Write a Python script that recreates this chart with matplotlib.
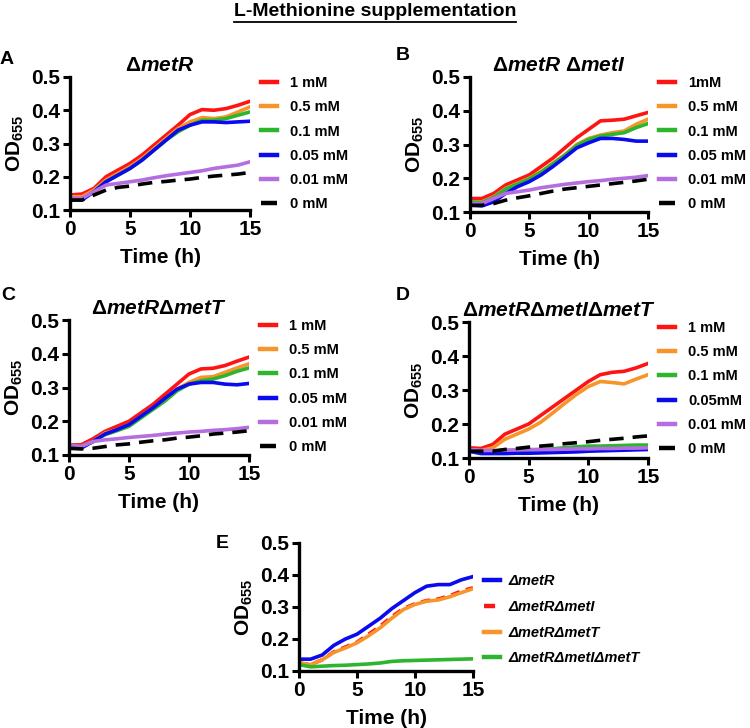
import matplotlib.pyplot as plt
from matplotlib.lines import Line2D
import numpy as np

plt.rcParams['font.family'] = ['Liberation Sans', 'DejaVu Sans']
plt.rcParams['font.weight'] = 'bold'
plt.rcParams['mathtext.fontset'] = 'custom'
plt.rcParams['mathtext.rm'] = 'Liberation Sans:bold'
plt.rcParams['mathtext.it'] = 'Liberation Sans:bold:italic'
plt.rcParams['mathtext.bf'] = 'Liberation Sans:bold'
plt.rcParams['mathtext.default'] = 'rm'

## data (OD655 at each hour)
time_h = [0, 1, 2, 3, 4, 5, 6, 7, 8, 9, 10, 11, 12, 13, 14, 15]

conc_labels_a = ["1 mM", "0.5 mM", "0.1 mM", "0.05 mM", "0.01 mM", "0 mM"]
conc_labels_b = ["1mM", "0.5 mM", "0.1 mM", "0.05 mM", "0.01 mM", "0 mM"]
conc_labels_d = ["1 mM", "0.5 mM", "0.1 mM", "0.05mM", "0.01 mM", "0 mM"]

a_1mM = [0.145, 0.148, 0.165, 0.200, 0.220, 0.240, 0.265, 0.295, 0.325, 0.355, 0.387, 0.402, 0.400, 0.405, 0.415, 0.427]
a_05mM = [0.140, 0.140, 0.160, 0.190, 0.210, 0.230, 0.255, 0.285, 0.315, 0.345, 0.365, 0.378, 0.375, 0.380, 0.395, 0.410]
a_01mM = [0.135, 0.133, 0.155, 0.185, 0.205, 0.225, 0.250, 0.280, 0.310, 0.335, 0.355, 0.370, 0.370, 0.375, 0.385, 0.395]
a_005mM = [0.130, 0.130, 0.155, 0.185, 0.205, 0.225, 0.250, 0.280, 0.310, 0.340, 0.355, 0.365, 0.365, 0.363, 0.365, 0.367]
a_001mM = [0.135, 0.135, 0.155, 0.175, 0.180, 0.185, 0.190, 0.197, 0.203, 0.208, 0.213, 0.218, 0.225, 0.230, 0.235, 0.245]
a_0mM = [0.130, 0.130, 0.145, 0.160, 0.168, 0.172, 0.178, 0.183, 0.186, 0.190, 0.193, 0.198, 0.202, 0.205, 0.208, 0.213]

b_1mM = [0.140, 0.140, 0.155, 0.180, 0.195, 0.210, 0.235, 0.260, 0.290, 0.320, 0.345, 0.370, 0.372, 0.375, 0.385, 0.395]
b_05mM = [0.130, 0.130, 0.145, 0.170, 0.185, 0.200, 0.220, 0.245, 0.270, 0.300, 0.318, 0.328, 0.335, 0.340, 0.360, 0.375]
b_01mM = [0.130, 0.128, 0.143, 0.168, 0.183, 0.198, 0.218, 0.243, 0.268, 0.297, 0.315, 0.325, 0.330, 0.335, 0.350, 0.362]
b_005mM = [0.120, 0.118, 0.130, 0.155, 0.175, 0.190, 0.210, 0.235, 0.262, 0.290, 0.305, 0.318, 0.318, 0.315, 0.310, 0.310]
b_001mM = [0.125, 0.125, 0.140, 0.155, 0.160, 0.165, 0.172, 0.177, 0.182, 0.186, 0.190, 0.193, 0.197, 0.200, 0.203, 0.208]
b_0mM = [0.120, 0.120, 0.125, 0.135, 0.142, 0.148, 0.155, 0.162, 0.168, 0.172, 0.176, 0.180, 0.184, 0.188, 0.192, 0.197]

c_1mM = [0.130, 0.130, 0.148, 0.170, 0.185, 0.200, 0.225, 0.250, 0.280, 0.310, 0.340, 0.355, 0.357, 0.365, 0.378, 0.390]
c_05mM = [0.125, 0.125, 0.140, 0.165, 0.175, 0.190, 0.215, 0.240, 0.265, 0.295, 0.315, 0.330, 0.332, 0.345, 0.358, 0.370]
c_01mM = [0.125, 0.125, 0.140, 0.160, 0.172, 0.185, 0.210, 0.235, 0.260, 0.290, 0.310, 0.320, 0.325, 0.335, 0.348, 0.358]
c_005mM = [0.120, 0.120, 0.140, 0.162, 0.175, 0.190, 0.215, 0.240, 0.268, 0.295, 0.310, 0.315, 0.315, 0.310, 0.308, 0.312]
c_001mM = [0.130, 0.125, 0.140, 0.145, 0.148, 0.152, 0.155, 0.158, 0.162, 0.165, 0.168, 0.170, 0.173, 0.175, 0.178, 0.182]
c_0mM = [0.120, 0.118, 0.120, 0.125, 0.130, 0.133, 0.138, 0.142, 0.145, 0.150, 0.153, 0.157, 0.162, 0.165, 0.168, 0.172]

d_1mM = [0.130, 0.128, 0.140, 0.170, 0.185, 0.200, 0.225, 0.250, 0.275, 0.300, 0.325, 0.345, 0.352, 0.355, 0.365, 0.378]
d_05mM = [0.125, 0.122, 0.130, 0.155, 0.170, 0.185, 0.205, 0.232, 0.260, 0.287, 0.310, 0.325, 0.322, 0.318, 0.332, 0.345]
d_01mM = [0.125, 0.120, 0.120, 0.122, 0.122, 0.123, 0.125, 0.127, 0.130, 0.133, 0.135, 0.135, 0.136, 0.137, 0.138, 0.138]
d_005mM = [0.120, 0.113, 0.113, 0.113, 0.114, 0.114, 0.115, 0.116, 0.117, 0.118, 0.120, 0.121, 0.122, 0.123, 0.124, 0.125]
d_001mM = [0.125, 0.122, 0.122, 0.123, 0.124, 0.125, 0.125, 0.125, 0.126, 0.127, 0.127, 0.128, 0.128, 0.129, 0.129, 0.130]
d_0mM = [0.120, 0.120, 0.120, 0.125, 0.128, 0.132, 0.135, 0.138, 0.142, 0.145, 0.148, 0.152, 0.155, 0.158, 0.162, 0.165]

strain_labels = ["ΔmetR", "ΔmetRΔmetI", "ΔmetRΔmetT", "ΔmetRΔmetIΔmetT"]
e_metR = [0.137, 0.137, 0.150, 0.180, 0.200, 0.215, 0.240, 0.265, 0.295, 0.320, 0.345, 0.365, 0.370, 0.370, 0.385, 0.395]
e_metRI = [0.125, 0.120, 0.135, 0.160, 0.175, 0.190, 0.215, 0.240, 0.270, 0.295, 0.310, 0.320, 0.325, 0.335, 0.350, 0.360]
e_metRT = [0.125, 0.120, 0.135, 0.158, 0.172, 0.188, 0.210, 0.235, 0.265, 0.292, 0.308, 0.318, 0.322, 0.332, 0.345, 0.357]
e_metRIT = [0.120, 0.113, 0.115, 0.117, 0.118, 0.120, 0.122, 0.125, 0.130, 0.132, 0.133, 0.134, 0.135, 0.136, 0.137, 0.138]

conc_colors = ['#ff1414', '#f7942a', '#2db52d', '#0a0aee', '#b56ee0', 'black']
conc_styles = ['-', '-', '-', '-', '-', (0, (4, 2.5))]
strain_colors = ['#0a0aee', '#ff1414', '#f7942a', '#2db52d']
strain_styles = ['-', (0, (2.5, 1.8)), '-', '-']

W, H = 750, 728
fig = plt.figure(figsize=(W / 100, H / 100), dpi=100)


def px_rect(x0, x1, y0, y1):
    return [x0 / W, (H - y1) / H, (x1 - x0) / W, (y1 - y0) / H]


def draw_panel(rect, series, labels, colors, styles, title, legend_italic=False,
               legend_gap=0.7, legend_anchor=(1.03, 1.05), textpad=0.9):
    ax = fig.add_axes(rect)
    for ys, lab, col, ls in zip(series, labels, colors, styles):
        ax.plot(time_h, ys, color=col, linestyle=ls, linewidth=2.6, label=lab)
    ax.set_xlim(0, 15)
    ax.set_ylim(0.1, 0.5)
    ax.set_xticks([0, 5, 10, 15])
    ax.set_yticks([0.1, 0.2, 0.3, 0.4, 0.5])
    ax.set_yticklabels(["0.1", "0.2", "0.3", "0.4", "0.5"])
    for s in ['top', 'right']:
        ax.spines[s].set_visible(False)
    for s in ['left', 'bottom']:
        ax.spines[s].set_linewidth(2.4)
    ax.tick_params(width=2.2, length=5, labelsize=15, pad=2)
    for t in ax.get_xticklabels() + ax.get_yticklabels():
        t.set_fontweight('bold')
    ax.set_xlabel("Time (h)", fontsize=15, fontweight='bold', labelpad=7)
    ax.set_ylabel("OD$_{655}$", fontsize=15, fontweight='bold', labelpad=4)
    if title:
        ax.set_title(title, fontsize=15, fontweight='bold', pad=4)
    prop = {'size': 10.5, 'weight': 'bold'}
    if legend_italic:
        prop['style'] = 'italic'
    leg = ax.legend(loc='upper left', bbox_to_anchor=legend_anchor, frameon=False, prop=prop,
                    handlelength=1.1, handletextpad=textpad, labelspacing=legend_gap, borderaxespad=0)
    for h in leg.get_lines():
        h.set_linewidth(3.2)
    return ax


ax_a = draw_panel(px_rect(70, 250, 77, 210), [a_1mM, a_05mM, a_01mM, a_005mM, a_001mM, a_0mM],
                  conc_labels_a, conc_colors, conc_styles, "Δ$\\mathit{metR}$")
ax_b = draw_panel(px_rect(470, 648, 77, 212), [b_1mM, b_05mM, b_01mM, b_005mM, b_001mM, b_0mM],
                  conc_labels_b, conc_colors, conc_styles, "Δ$\\mathit{metR}$ Δ$\\mathit{metI}$")
ax_c = draw_panel(px_rect(69, 249, 320, 455), [c_1mM, c_05mM, c_01mM, c_005mM, c_001mM, c_0mM],
                  conc_labels_a, conc_colors, conc_styles, "Δ$\\mathit{metR}$Δ$\\mathit{metT}$")
ax_d = draw_panel(px_rect(469, 648, 322, 458), [d_1mM, d_05mM, d_01mM, d_005mM, d_001mM, d_0mM],
                  conc_labels_d, conc_colors, conc_styles,
                  "Δ$\\mathit{metR}$Δ$\\mathit{metI}$Δ$\\mathit{metT}$")
ax_e = draw_panel(px_rect(299, 473, 543, 671), [e_metR, e_metRI, e_metRT, e_metRIT],
                  strain_labels, strain_colors, strain_styles, None, legend_italic=True,
                  legend_gap=0.8, legend_anchor=(1.03, 0.8), textpad=0.55)

# panel letters
for letter, (x, y) in zip("ABCDE", [(7, 60), (403, 55), (8, 295), (403, 295), (222, 543)]):
    fig.text(x / W, 1 - y / H, letter, fontsize=14, fontweight='bold', ha='center', va='center')

# underlined main title
title = fig.text(0.5, 1 - 12 / H, "L-Methionine supplementation", fontsize=14, fontweight='bold',
                 ha='center', va='center')
fig.canvas.draw()
bb = title.get_window_extent().transformed(fig.transFigure.inverted())
fig.add_artist(Line2D([bb.x0, bb.x1], [bb.y0 - 0.002, bb.y0 - 0.002], color='black', linewidth=1.3,
                      transform=fig.transFigure))

fig.savefig("out.png", dpi=100)
